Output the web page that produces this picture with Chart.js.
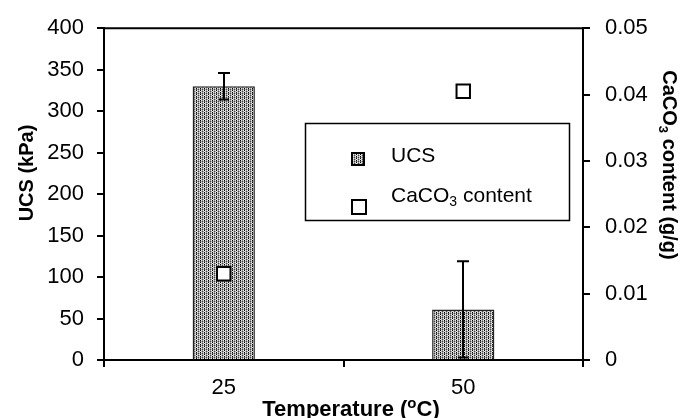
<!DOCTYPE html>
<html>
<head>
<meta charset="utf-8">
<script src="https://cdn.jsdelivr.net/npm/chart.js@4.4.0/dist/chart.umd.min.js"></script>
<style>
  html, body { margin: 0; padding: 0; background: #fff; }
  canvas { display: block; }
</style>
</head>
<body>
<canvas id="ucsChart" width="680" height="418"></canvas>
<script>
const temperatures = ['25', '50'];
const ucsValues = [330, 61];      // kPa
const ucsErrors = [16, 58];       // +/- kPa
const caco3Values = [0.013, 0.0405]; // g/g
const leftTicks = ['0', '50', '100', '150', '200', '250', '300', '350', '400'];
const rightTicks = ['0', '0.01', '0.02', '0.03', '0.04', '0.05'];

const FONT = "'Liberation Sans', Arial, sans-serif";
const canvas = document.getElementById('ucsChart');
const ctx = canvas.getContext('2d');

// grey stipple fill for the bars
function stipple() {
    const c = document.createElement('canvas');
    c.width = 4; c.height = 4;
    const g = c.getContext('2d');
    g.fillStyle = '#e4e4e4';
    g.fillRect(0, 0, 4, 4);
    const dots = [
        [0, 0, '#000'], [0, 2, '#000'], [0, 1, '#555'],
        [2, 1, '#444'], [2, 3, '#444'],
        [1, 1, '#aaa'], [3, 3, '#aaa'],
        [1, 3, '#bbb'], [3, 1, '#bbb'],
        [2, 0, '#999'], [2, 2, '#999']
    ];
    dots.forEach(([x, y, col]) => { g.fillStyle = col; g.fillRect(x, y, 1, 1); });
    return ctx.createPattern(c, 'repeat');
}
const barFill = stipple();

// draw a run of text pieces (for sub/superscripts)
function drawParts(c, parts, x, y, align) {
    let w = 0;
    parts.forEach(p => { c.font = p[1]; w += c.measureText(p[0]).width; });
    let cx = align === 'center' ? x - w / 2 : x;
    parts.forEach(p => {
        c.font = p[1];
        c.fillText(p[0], cx, y + (p[2] || 0));
        cx += c.measureText(p[0]).width;
    });
}

const bold20 = 'bold 20px ' + FONT;
const bold22 = 'bold 22px ' + FONT;
const reg21 = '21px ' + FONT;

const errorBars = {
    id: 'errorBars',
    afterDatasetsDraw(chart) {
        const meta = chart.getDatasetMeta(1);
        const y = chart.scales.y;
        const c = chart.ctx;
        c.save();
        c.strokeStyle = '#000';
        c.lineWidth = 2;
        meta.data.forEach((bar, i) => {
            const x = Math.round(bar.x);
            const hi = y.getPixelForValue(ucsValues[i] + ucsErrors[i]);
            const lo = y.getPixelForValue(ucsValues[i] - ucsErrors[i]);
            c.beginPath();
            c.moveTo(x, hi); c.lineTo(x, lo);
            c.moveTo(x - 6, hi); c.lineTo(x + 6, hi);
            c.moveTo(x - 5, lo); c.lineTo(x + 5, lo);
            c.stroke();
        });
        c.restore();
    }
};

const decorations = {
    id: 'decorations',
    afterDraw(chart) {
        const c = chart.ctx;
        const a = chart.chartArea;
        c.save();
        // top frame line
        c.strokeStyle = '#000';
        c.lineWidth = 2;
        c.beginPath();
        c.moveTo(a.left, a.top);
        c.lineTo(a.right, a.top);
        c.stroke();

        c.fillStyle = '#000';
        c.textBaseline = 'alphabetic';

        // x title
        drawParts(c, [
            ['Temperature (', bold22],
            ['o', 'bold 15px ' + FONT, -8],
            ['C)', bold22]
        ], 351, 416, 'center');

        // left title
        c.save();
        c.translate(33, 173);
        c.rotate(-Math.PI / 2);
        drawParts(c, [['UCS (kPa)', bold20]], 0, 0, 'center');
        c.restore();

        // right title
        c.save();
        c.translate(663, 165);
        c.rotate(Math.PI / 2);
        drawParts(c, [
            ['CaCO', bold20],
            ['3', 'bold 13px ' + FONT, 4],
            [' content (g/g)', bold20]
        ], 0, 0, 'center');
        c.restore();

        // legend
        c.lineWidth = 1.5;
        c.strokeRect(305.5, 123.5, 264, 97);

        c.fillStyle = barFill;
        c.fillRect(352, 153, 12, 12);
        c.lineWidth = 2;
        c.strokeRect(352, 153, 12, 12);

        c.fillStyle = '#fff';
        c.fillRect(352, 200, 14, 14);
        c.strokeRect(352, 200, 14, 14);

        c.fillStyle = '#000';
        drawParts(c, [['UCS', reg21]], 391, 162, 'left');
        drawParts(c, [
            ['CaCO', reg21],
            ['3', '14px ' + FONT, 4],
            [' content', reg21]
        ], 391, 202, 'left');
        c.restore();
    }
};

const axisGrid = {
    drawOnChartArea: false,
    tickLength: 7,
    color: '#000',
    lineWidth: 2
};

new Chart(ctx, {
    type: 'bar',
    data: {
        labels: temperatures,
        datasets: [{
            type: 'line',
            label: 'CaCO3 content',
            data: caco3Values,
            yAxisID: 'y1',
            showLine: false,
            pointStyle: 'rect',
            pointRadius: 9.5,
            pointBackgroundColor: '#fff',
            pointBorderColor: '#000',
            pointBorderWidth: 2,
            order: 0
        }, {
            label: 'UCS',
            data: ucsValues,
            yAxisID: 'y',
            backgroundColor: barFill,
            borderColor: '#222',
            borderWidth: 1.5,
            barPercentage: 0.26,
            categoryPercentage: 1,
            order: 1
        }]
    },
    options: {
        responsive: false,
        animation: false,
        layout: { padding: { top: 21, left: 0, right: 0, bottom: 0 } },
        plugins: {
            legend: { display: false },
            tooltip: { enabled: false }
        },
        scales: {
            x: {
                offset: true,
                grid: Object.assign({ offset: true }, axisGrid),
                border: { color: '#000', width: 2 },
                ticks: { color: '#000', font: { size: 22, family: FONT }, padding: 8 },
                afterFit(s) { s.height = 58; }
            },
            y: {
                position: 'left',
                min: 0,
                max: 400,
                grid: axisGrid,
                border: { color: '#000', width: 2 },
                ticks: {
                    stepSize: 50,
                    color: '#000',
                    padding: 13,
                    font: { size: 22, family: FONT },
                    callback: (v, i) => leftTicks[i]
                },
                afterFit(s) { s.width = 104; }
            },
            y1: {
                position: 'right',
                min: 0,
                max: 0.05,
                grid: axisGrid,
                border: { color: '#000', width: 2 },
                ticks: {
                    stepSize: 0.01,
                    color: '#000',
                    padding: 15,
                    font: { size: 22, family: FONT },
                    callback: (v, i) => rightTicks[i]
                },
                afterFit(s) { s.width = 97; }
            }
        }
    },
    plugins: [errorBars, decorations]
});
</script>
</body>
</html>
